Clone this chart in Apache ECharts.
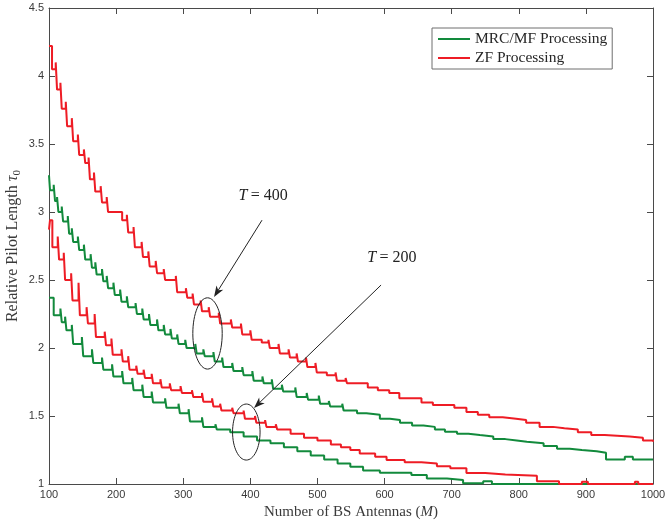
<!DOCTYPE html>
<html><head><meta charset="utf-8">
<script src="https://cdn.jsdelivr.net/npm/echarts@6/dist/echarts.min.js"></script>
<style>html,body{margin:0;padding:0;background:#fff}#c{width:665px;height:520px}</style>
</head><body><div id="c"></div>
<script>
// ---- data ----
const seriesNames = ['MRC/MF Processing', 'ZF Processing'];

// step levels: value holds from each M until the next M
const zfT400M = [100,104.5,112,119,127,136,145,154,161,169,179,188,209,218,228,240,250,261,273,291,306,316,328,340,355,373,388,402,417,429,444,459,471,485,499,514,529,544,575,590,607,622,655,672,704,722,739,756,776,796,811,831,851,868,888,908,928,965,985,1000];
const zfT400V = [4.22,4.05,3.90,3.76,3.63,3.52,3.42,3.36,3.24,3.15,3.07,3.00,2.94,2.85,2.74,2.67,2.60,2.55,2.50,2.41,2.37,2.32,2.27,2.23,2.18,2.15,2.10,2.06,2.04,2.00,1.96,1.93,1.90,1.86,1.82,1.80,1.76,1.74,1.71,1.69,1.67,1.63,1.60,1.58,1.56,1.53,1.51,1.49,1.48,1.47,1.45,1.42,1.41,1.40,1.38,1.36,1.35,1.34,1.32,1.31];
// short upward spikes just before a step: [M of step, peak value]
const zfT400Spikes = [[112,4.10],[119,3.95],[127,3.81],[136,3.69],[145,3.57],[154,3.46],[161,3.40],[169,3.29],[179,3.19],[188,3.11],[218,2.98],[228,2.89],[240,2.78],[250,2.71],[261,2.64],[273,2.58],[291,2.53],[306,2.44],[316,2.40],[328,2.35],[340,2.30],[355,2.26],[373,2.21],[388,2.18],[402,2.13],[429,2.06],[444,2.03],[459,1.99],[471,1.96],[485,1.93],[499,1.89],[529,1.82],[544,1.78]];

const mrcT400M = [100,101.5,109,114,121,130,136,145,154,164,171,181,188,198,208,218,231,241,251,263,273,283,293,305,320,332,347,360,375,390,405,420,434,449,469,486,504,519,539,559,573,593,608,623,641,658,675,690,708,725,742,762,780,797,812,837,857,876,894,916,930,958,970,1000];
const mrcT400V = [3.27,3.16,3.08,3.00,2.93,2.84,2.78,2.72,2.65,2.59,2.54,2.49,2.44,2.39,2.34,2.30,2.25,2.21,2.17,2.13,2.10,2.07,2.03,2.00,1.96,1.94,1.90,1.86,1.83,1.80,1.76,1.74,1.70,1.68,1.64,1.62,1.59,1.57,1.54,1.52,1.51,1.48,1.47,1.45,1.43,1.42,1.40,1.385,1.37,1.36,1.35,1.33,1.32,1.31,1.30,1.28,1.26,1.25,1.24,1.23,1.18,1.20,1.18,1.18];
const mrcT400Spikes = [[109,3.20],[114,3.11],[121,3.04],[130,2.97],[136,2.88],[145,2.82],[154,2.76],[164,2.69],[171,2.63],[181,2.58],[188,2.53],[198,2.48],[208,2.43],[218,2.38],[231,2.33],[241,2.29],[251,2.25],[263,2.21],[273,2.17],[283,2.14],[293,2.10],[305,2.06],[320,2.03],[332,1.99],[347,1.97],[360,1.93],[375,1.89],[390,1.86],[405,1.83],[420,1.79],[434,1.77],[449,1.73],[469,1.71],[486,1.67],[504,1.65],[519,1.61],[539,1.59]];

const zfT200M = [100,101.5,105,115,124,135,146,158,170,185,195,210,220,232,243,255,268,282,298,315,330,345,357,375,392,409,424,440,460,480,500,520,535,549,563,586,603,630,655,678,698,722,750,780,827,860,894,903,973,978,1000];
const zfT200V = [2.87,2.94,2.74,2.65,2.50,2.35,2.24,2.18,2.08,2.02,1.95,1.90,1.84,1.81,1.78,1.74,1.71,1.69,1.67,1.64,1.605,1.57,1.54,1.52,1.48,1.45,1.42,1.40,1.37,1.34,1.32,1.29,1.27,1.25,1.225,1.20,1.176,1.16,1.15,1.13,1.115,1.08,1.07,1.06,1.02,1.00,1.017,1.00,1.017,1.00,1.00];
const zfT200Spikes = [[115,2.82],[124,2.70],[135,2.55],[146,2.48],[158,2.30],[170,2.25],[185,2.12],[195,2.07],[210,1.99],[220,1.94],[232,1.87],[243,1.84],[255,1.81],[268,1.77],[282,1.74],[298,1.72],[315,1.69],[330,1.67],[345,1.63],[357,1.59],[375,1.56],[392,1.54],[409,1.50],[424,1.47],[440,1.44]];

const mrcT200M = [100,107,119,126,136,151,166,181,196,211,226,241,255,275,295,310,330,350,370,390,410,430,450,470,490,510,530,549,568,593,640,663,693,717,747,760,1000];
const mrcT200V = [2.37,2.24,2.19,2.13,2.03,1.94,1.89,1.84,1.79,1.74,1.69,1.64,1.60,1.56,1.52,1.46,1.42,1.40,1.38,1.35,1.32,1.30,1.27,1.24,1.21,1.18,1.15,1.127,1.10,1.083,1.066,1.04,1.03,1.005,1.02,1.00,1.00];
const mrcT200Spikes = [[119,2.29],[126,2.23],[136,2.17],[151,2.08],[166,1.99],[181,1.93],[196,1.88],[211,1.83],[226,1.78],[241,1.73],[255,1.68],[275,1.63],[295,1.59],[310,1.55],[330,1.49],[350,1.44]];

// annotation anchors in data coordinates [M, tau0]
const labelT400 = [419, 3.12], labelT200 = [611, 2.66];
const arrowT400 = [[417.4, 2.94], [345.9, 2.375]];
const arrowT200 = [[594.8, 2.463], [405.5, 1.559]];
const ellipseT400 = {c: [336.2, 2.107], rx: 21.9, ry: 0.262};
const ellipseT200 = {c: [394, 1.382], rx: 20.5, ry: 0.206};

// ---- chart ----
const GREEN = '#128a3c', RED = '#ee1c25', AX = '#4a4a4a';
const serif = '"Liberation Serif","Times New Roman",serif';
const sans = '"Liberation Sans",Arial,Helvetica,sans-serif';
const SPIKE_W = 2; // spike width in M units
function build(m, v, spikes) {
  const sp = new Map(spikes);
  const out = [];
  m.forEach((x, i) => {
    if (sp.has(x)) out.push([x - SPIKE_W, sp.get(x)]);
    out.push([x, v[i]]);
  });
  return out;
}

const chart = echarts.init(document.getElementById('c'));
const axisCommon = {
  axisLine: {show: true, onZero: false, lineStyle: {color: AX, width: 1}},
  axisTick: {show: true, inside: true, length: 6, lineStyle: {color: AX, width: 1}},
  splitLine: {show: false}
};
function lineSeries(name, data, color) {
  return {
    name, type: 'line', step: 'end', data, showSymbol: false, symbol: 'none',
    lineStyle: {color, width: 2}, itemStyle: {color}, animation: false, z: 3
  };
}
chart.setOption({
  animation: false,
  grid: {left: 49, right: 12, top: 8, bottom: 36, containLabel: false, outerBoundsMode: 'none'},
  legend: {
    data: seriesNames, orient: 'vertical', left: 432, top: 28,
    padding: [3, 5, 3, 6], itemGap: 3, itemWidth: 32, itemHeight: 2, icon: 'rect',
    borderColor: '#6e6e6e', borderWidth: 1, backgroundColor: '#fff',
    textStyle: {fontFamily: serif, fontSize: 15.5, color: '#262626', lineHeight: 16}
  },
  xAxis: [
    Object.assign({}, axisCommon, {
      type: 'value', min: 100, max: 1000, interval: 100, position: 'bottom',
      axisLabel: {color: '#3a3a3a', fontFamily: sans, fontSize: 11, margin: 5, formatter: v => String(v)},
      name: '{n|Number of BS Antennas (}{i|M}{n|)}', nameLocation: 'middle', nameGap: 18,
      nameTextStyle: {rich: {
        n: {fontFamily: serif, fontSize: 15, color: '#3a3a3a'},
        i: {fontFamily: serif, fontSize: 15, fontStyle: 'italic', color: '#3a3a3a'}
      }}
    }),
    Object.assign({}, axisCommon, {
      type: 'value', min: 100, max: 1000, interval: 100, position: 'top', axisLabel: {show: false}
    })
  ],
  yAxis: [
    Object.assign({}, axisCommon, {
      type: 'value', min: 1, max: 4.5, interval: 0.5, position: 'left',
      axisLabel: {color: '#3a3a3a', fontFamily: sans, fontSize: 11, margin: 5, formatter: v => String(v)},
      name: '{n|Relative Pilot Length }{i|τ}{s|0}', nameLocation: 'middle', nameGap: 26,
      nameMoveOverlap: false,
      nameTextStyle: {rich: {
        n: {fontFamily: serif, fontSize: 16, color: '#3a3a3a', lineHeight: 20},
        i: {fontFamily: serif, fontSize: 16, fontStyle: 'italic', color: '#3a3a3a', lineHeight: 20},
        s: {fontFamily: serif, fontSize: 11, color: '#3a3a3a', lineHeight: 10, verticalAlign: 'bottom'}
      }}
    }),
    Object.assign({}, axisCommon, {
      type: 'value', min: 1, max: 4.5, interval: 0.5, position: 'right', axisLabel: {show: false}
    })
  ],
  series: [
    lineSeries(seriesNames[0], build(mrcT400M, mrcT400V, mrcT400Spikes), GREEN),
    lineSeries(seriesNames[1], build(zfT400M, zfT400V, zfT400Spikes), RED),
    lineSeries(seriesNames[0], build(mrcT200M, mrcT200V, mrcT200Spikes), GREEN),
    lineSeries(seriesNames[1], build(zfT200M, zfT200V, zfT200Spikes), RED)
  ]
});

// annotations
function px(p) { return chart.convertToPixel({xAxisIndex: 0, yAxisIndex: 0}, p); }
function arrowEls(a) {
  const p0 = px(a[0]), p1 = px(a[1]);
  const dx = p1[0] - p0[0], dy = p1[1] - p0[1], L = Math.hypot(dx, dy);
  const ux = dx / L, uy = dy / L, nx = -uy, ny = ux;
  const len = 11, hw = 4, notch = 8;
  const bx = p1[0] - ux * len, by = p1[1] - uy * len;
  const kx = p1[0] - ux * notch, ky = p1[1] - uy * notch;
  return [
    {type: 'line', shape: {x1: p0[0], y1: p0[1], x2: kx, y2: ky}, style: {stroke: '#222', lineWidth: 1}, z: 10},
    {type: 'polygon', shape: {points: [[p1[0], p1[1]], [bx + nx * hw, by + ny * hw], [kx, ky], [bx - nx * hw, by - ny * hw]]},
      style: {fill: '#222'}, z: 10}
  ];
}
function ellipseEl(e) {
  const c = px(e.c), r1 = px([e.c[0] + e.rx, e.c[1] + e.ry]);
  return {type: 'ellipse', shape: {cx: c[0], cy: c[1], rx: Math.abs(r1[0] - c[0]), ry: Math.abs(r1[1] - c[1])},
    style: {stroke: '#222', fill: null, lineWidth: 1}, z: 10};
}
function labelEl(p, num) {
  const c = px(p);
  return {type: 'text', x: c[0], y: c[1], z: 10,
    style: {text: '{i|T} {n|= ' + num + '}', align: 'center', verticalAlign: 'middle',
      rich: {i: {fontFamily: serif, fontSize: 16, fontStyle: 'italic', fill: '#222'},
             n: {fontFamily: serif, fontSize: 16, fill: '#222'}}}};
}
chart.setOption({graphic: [].concat(
  arrowEls(arrowT400), arrowEls(arrowT200),
  [ellipseEl(ellipseT400), ellipseEl(ellipseT200), labelEl(labelT400, 400), labelEl(labelT200, 200)]
)});
</script></body></html>
